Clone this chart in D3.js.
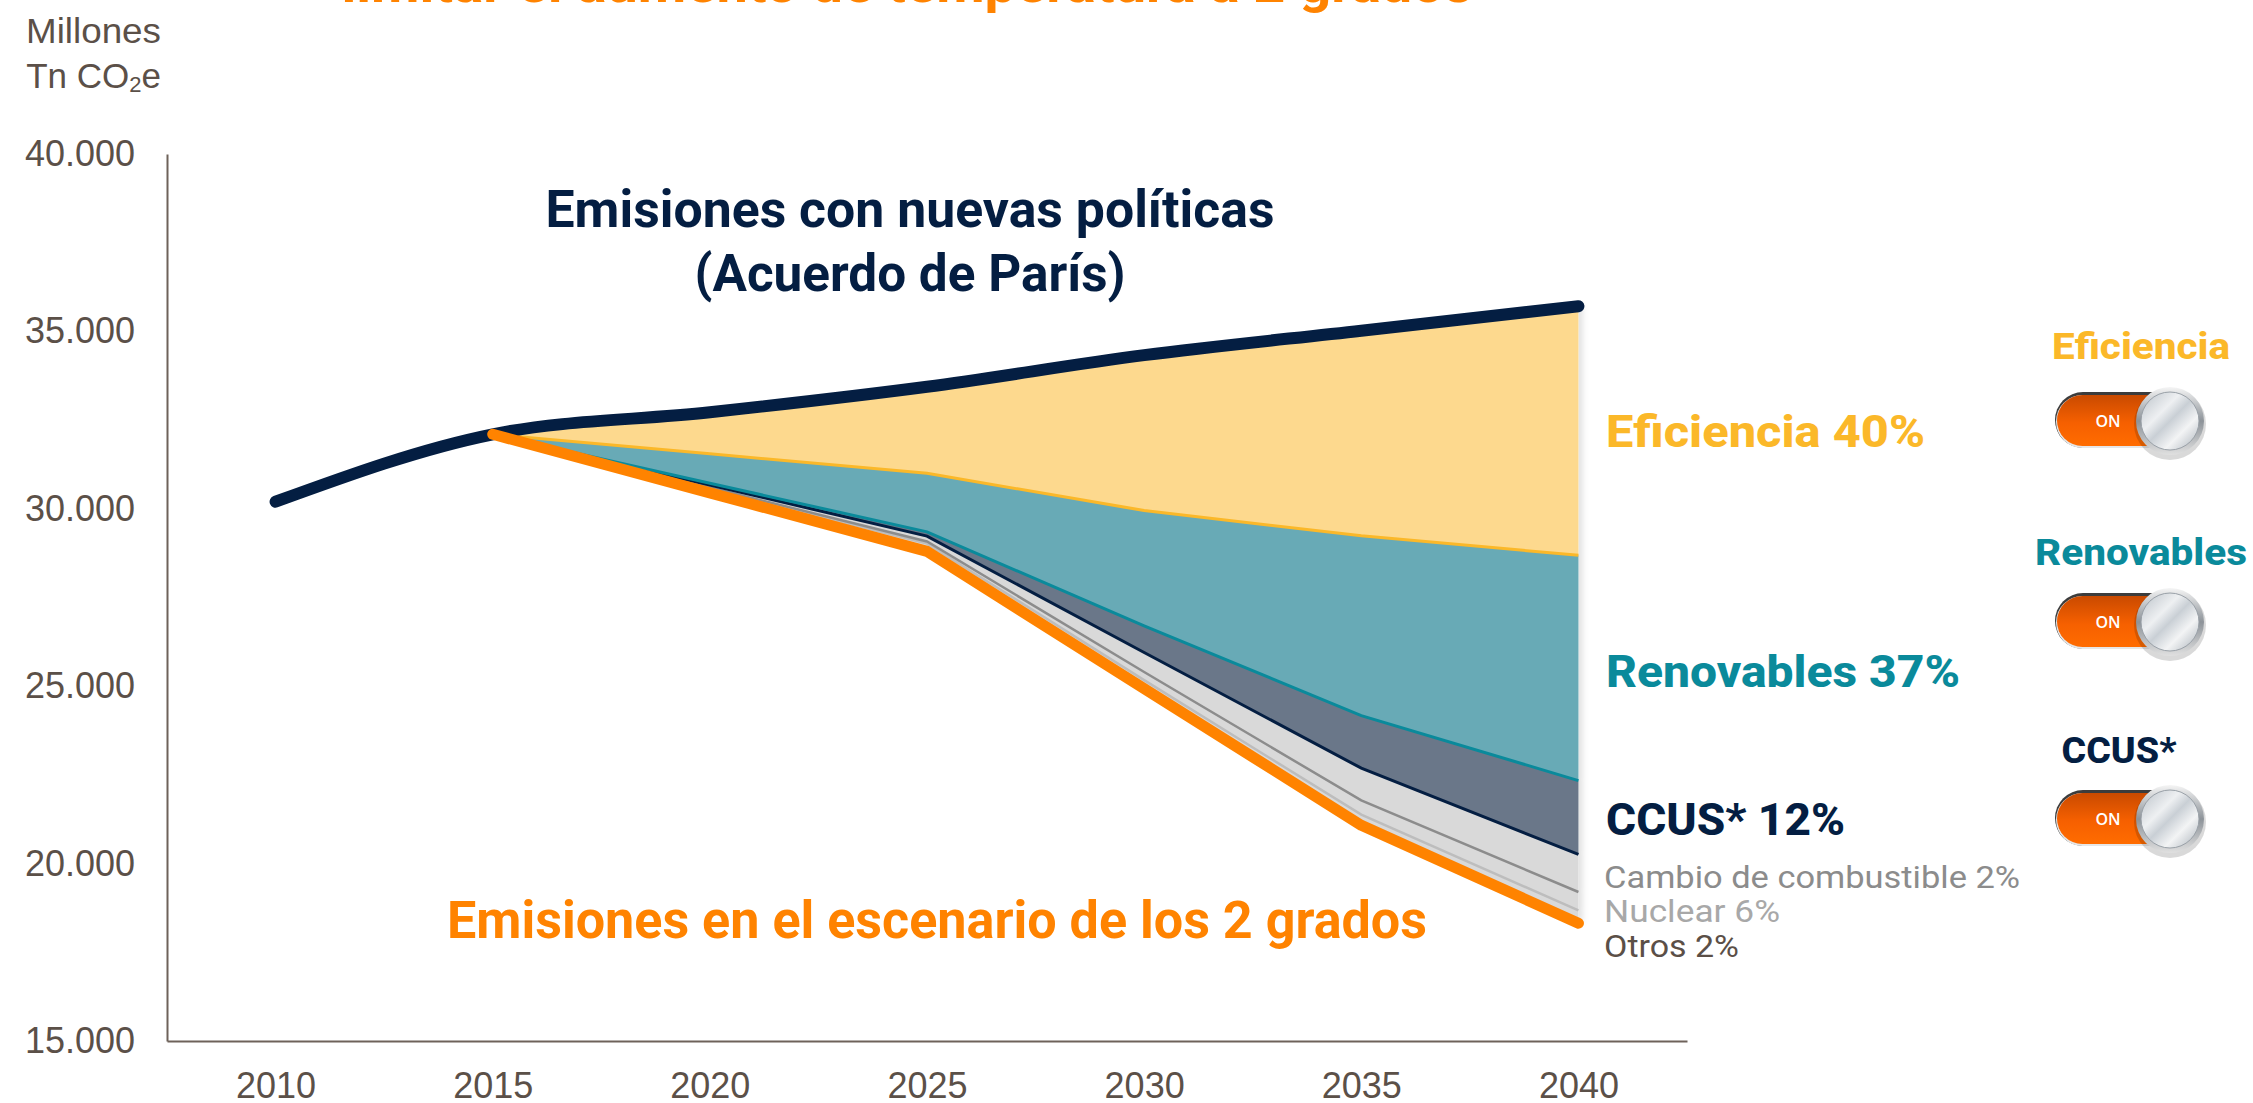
<!DOCTYPE html>
<html>
<head>
<meta charset="utf-8">
<script src="https://cdn.jsdelivr.net/npm/d3@7"></script>
<style>
  body { margin: 0; background: #fff; }
  svg { display: block; }
</style>
</head>
<body>
<div id="chart"></div>
<script>
// ---- data (millones Tn CO2e) ----
const years = [2010, 2015, 2020, 2025, 2030, 2035, 2040];
const yTicks = [15000, 20000, 25000, 30000, 35000, 40000];

// Emisiones con nuevas políticas (Acuerdo de París)
const nuevasPoliticas = [30200, 32100, 32720, 33440, 34330, 35020, 35710];

// Emisiones en el escenario de los 2 grados
const escYears = [2015, 2020, 2025, 2030, 2035, 2040];
const dosGrados = [32100, 30450, 28800, 24930, 21080, 18320];

// reducción por palanca, de abajo hacia arriba
const otros      = [0, 120, 220, 240, 300, 360];
const cambio     = [0, 30, 60, 230, 400, 520];
const nuclear    = [0, 70, 150, 550, 910, 1060];
const ccus       = [0, 50, 120, 750, 1480, 2080];
const renovables = [0, 830, 1650, 3250, 5070, 6350];
const eficiencia = [0, 1170, 2440, 4380, 5780, 7020];

const layerKeys = ["otros", "cambio", "nuclear", "ccus", "renovables", "eficiencia"];
const layerFill = { otros: "#d9d9d9", cambio: "#d9d9d9", nuclear: "#d9d9d9", ccus: "#6a7789", renovables: "#68aab6", eficiencia: "#fdd98e" };
const layerEdge = { otros: null, cambio: "#bdbdbd", nuclear: "#8c8c8c", ccus: "#041e42", renovables: "#0a8a9b", eficiencia: "#fbb829" };

const rightLabels = [
  { text: "Eficiencia 40%", color: "#fbb829" },
  { text: "Renovables 37%", color: "#0a8a9b" },
  { text: "CCUS* 12%", color: "#041e42" }
];
const smallLabels = [
  { text: "Cambio de combustible 2%", color: "#8c8c8c" },
  { text: "Nuclear 6%", color: "#a8a8a8" },
  { text: "Otros 2%", color: "#5b4f47" }
];
const toggles = [
  { text: "Eficiencia", color: "#fbb829" },
  { text: "Renovables", color: "#0a8a9b" },
  { text: "CCUS*", color: "#041e42" }
];

// ---- setup ----
const W = 2253, H = 1103;
const navy = "#041e42", orange = "#ff8300", axisCol = "#6e625a", tickCol = "#5b5048";
const display = "Roboto, 'DejaVu Sans', sans-serif";
const plain = "'Liberation Sans', Arial, sans-serif";

const svg = d3.select("#chart").append("svg")
  .attr("width", W).attr("height", H);

const defs = svg.append("defs");
const shadow = defs.append("filter").attr("id", "shade")
  .attr("x", "-5%").attr("y", "-5%").attr("width", "115%").attr("height", "115%");
shadow.append("feDropShadow").attr("dx", 4).attr("dy", 0)
  .attr("stdDeviation", 3).attr("flood-color", "#000").attr("flood-opacity", 0.12);

let pillGrad = defs.append("linearGradient").attr("id", "pill").attr("x1", 0).attr("y1", 0).attr("x2", 0).attr("y2", 1);
pillGrad.append("stop").attr("offset", "0%").attr("stop-color", "#c94a00");
pillGrad.append("stop").attr("offset", "55%").attr("stop-color", "#f66000");
pillGrad.append("stop").attr("offset", "100%").attr("stop-color", "#ff6c00");

let knobGrad = defs.append("linearGradient").attr("id", "knob").attr("x1", 0).attr("y1", 0).attr("x2", 1).attr("y2", 1);
knobGrad.append("stop").attr("offset", "0%").attr("stop-color", "#b9c0c7");
knobGrad.append("stop").attr("offset", "35%").attr("stop-color", "#eef0f2");
knobGrad.append("stop").attr("offset", "50%").attr("stop-color", "#c9cfd5");
knobGrad.append("stop").attr("offset", "70%").attr("stop-color", "#f3f4f5");
knobGrad.append("stop").attr("offset", "100%").attr("stop-color", "#a8b0b8");

let ringGrad = defs.append("linearGradient").attr("id", "ring").attr("x1", 0).attr("y1", 0).attr("x2", 0).attr("y2", 1);
ringGrad.append("stop").attr("offset", "0%").attr("stop-color", "#f5f5f5");
ringGrad.append("stop").attr("offset", "50%").attr("stop-color", "#8d9399");
ringGrad.append("stop").attr("offset", "100%").attr("stop-color", "#e0e0e0");

// Scales
const x = d3.scalePoint().domain(years).range([167, 1687]).padding(0.5);
const y = d3.scaleLinear().domain([15000, 40000]).range([1041, 154]);

const esLocale = d3.formatLocale({ decimal: ",", thousands: ".", grouping: [3], currency: ["", " €"] });

// Axes
const gy = svg.append("g").attr("transform", "translate(167,0)")
  .call(d3.axisLeft(y).tickValues(yTicks).tickFormat(esLocale.format(",")).tickSize(0).tickPadding(32));
const gx = svg.append("g").attr("transform", "translate(0,1041)")
  .call(d3.axisBottom(x).tickSize(0).tickPadding(31).tickFormat(d3.format("d")));
[gx, gy].forEach(g => {
  g.select(".domain").attr("stroke", axisCol).attr("stroke-width", 2);
  g.selectAll("text").attr("fill", tickCol).style("font-family", plain).style("font-size", "36px");
});

// y-axis title
svg.append("text").attr("x", 161).attr("y", 43).attr("text-anchor", "end")
  .attr("fill", tickCol).style("font-family", plain).style("font-size", "35px")
  .attr("textLength", 135).attr("lengthAdjust", "spacingAndGlyphs").text("Millones");
let unit = svg.append("text").attr("x", 161).attr("y", 88).attr("text-anchor", "end")
  .attr("fill", tickCol).style("font-family", plain).style("font-size", "35px");
unit.append("tspan").text("Tn CO");
unit.append("tspan").attr("font-size", "22px").attr("dy", 4).text("2");
unit.append("tspan").attr("dy", -4).text("e");

// ---- stacked reductions on top of the 2 grados scenario ----
const rows = escYears.map((yr, j) => ({
  year: yr, otros: otros[j], cambio: cambio[j], nuclear: nuclear[j],
  ccus: ccus[j], renovables: renovables[j], eficiencia: eficiencia[j]
}));

const stack = d3.stack().keys(layerKeys).offset((series, order) => {
  d3.stackOffsetNone(series, order);
  series.forEach(s => s.forEach((p, j) => { p[0] += dosGrados[j]; p[1] += dosGrados[j]; }));
});
const series = stack(rows);

const area = d3.area()
  .x(d => x(d.data.year))
  .y0(d => y(d[0]))
  .y1(d => y(d[1]));

const gArea = svg.append("g").attr("filter", "url(#shade)");
series.forEach(s => {
  if (s.key === "eficiencia") {
    // upper edge follows the smooth nuevas políticas curve
    let top = s.map(d => [x(d.data.year), y(d[1])]);
    let bot = s.map(d => [x(d.data.year), y(d[0])]).reverse();
    let p = d3.line().curve(d3.curveMonotoneX)(top) + "L" + bot.map(q => q.join(",")).join("L") + "Z";
    gArea.append("path").attr("d", p).attr("fill", layerFill[s.key]);
  } else {
    gArea.append("path").datum(s).attr("d", area).attr("fill", layerFill[s.key]);
  }
});

// edge lines (bottom of each layer)
const edge = d3.line().x(d => x(d.data.year)).y(d => y(d[0]));
series.forEach(s => {
  if (!layerEdge[s.key]) return;
  svg.append("path").datum(s).attr("d", edge)
    .attr("fill", "none").attr("stroke", layerEdge[s.key])
    .attr("stroke-width", s.key === "cambio" || s.key === "nuclear" ? 2.5 : 3);
});

// main lines
const polData = years.map((yr, i) => ({ year: yr, v: nuevasPoliticas[i] }));
svg.append("path").datum(polData)
  .attr("d", d3.line().x(d => x(d.year)).y(d => y(d.v)).curve(d3.curveMonotoneX))
  .attr("fill", "none").attr("stroke", navy).attr("stroke-width", 12)
  .attr("stroke-linecap", "round");

const escData = escYears.map((yr, i) => ({ year: yr, v: dosGrados[i] }));
svg.append("path").datum(escData)
  .attr("d", d3.line().x(d => x(d.year)).y(d => y(d.v)))
  .attr("fill", "none").attr("stroke", orange).attr("stroke-width", 11)
  .attr("stroke-linecap", "round").attr("stroke-linejoin", "round");

// ---- texts ----
function label(txt, cx, by, size, len, color, weight, anchor) {
  return svg.append("text").attr("x", cx).attr("y", by)
    .attr("text-anchor", anchor || "middle")
    .attr("fill", color).style("font-family", display)
    .style("font-weight", weight || 700).style("font-size", size + "px")
    .attr("textLength", len).attr("lengthAdjust", "spacingAndGlyphs")
    .text(txt);
}

label("limitar el aumento de temperatura a 2 grados", 907, 2, 52, 1131, orange);
label("Emisiones con nuevas políticas", 910, 227, 52, 729, navy);
label("(Acuerdo de París)", 910, 291, 52, 431, navy);
label("Emisiones en el escenario de los 2 grados", 937, 938, 51, 980, orange);

const rightY = [447, 687, 835];
const rightW = [319, 354, 239];
rightLabels.forEach((d, i) => label(d.text, 1606, rightY[i], 44, rightW[i], d.color, 800, "start"));

const smallY = [888, 922, 957];
const smallW = [416, 176, 135];
smallLabels.forEach((d, i) => label(d.text, 1604, smallY[i], 32, smallW[i], d.color, 400, "start"));

// ---- toggles ----
const togLabelY = [359, 565, 763];
const togLabelW = [178, 212, 115];
const togLabelX = [2141, 2141, 2119];
const togKnobY = [421, 622, 819];
toggles.forEach((d, i) => {
  label(d.text, togLabelX[i], togLabelY[i], 36, togLabelW[i], d.color, 800);
  let g = svg.append("g").attr("transform", `translate(2170,${togKnobY[i]})`);
  g.append("rect").attr("x", -115).attr("y", -29).attr("width", 125).attr("height", 56)
    .attr("rx", 28).attr("fill", "#3c3c3c");
  g.append("rect").attr("x", -114).attr("y", -26).attr("width", 124).attr("height", 53)
    .attr("rx", 26.5).attr("fill", "#e6e6e6");
  g.append("rect").attr("x", -113).attr("y", -26).attr("width", 122).attr("height", 51)
    .attr("rx", 25.5).attr("fill", "url(#pill)");
  g.append("text").attr("x", -62).attr("y", 6).attr("text-anchor", "middle")
    .attr("fill", "#fff").style("font-family", "'Open Sans', sans-serif")
    .style("font-weight", 600).style("font-size", "16px").text("ON");
  g.append("circle").attr("r", 36).attr("fill", "#000").attr("opacity", 0.15).attr("cy", 3);
  g.append("circle").attr("r", 34).attr("fill", "url(#ring)");
  g.append("circle").attr("r", 29).attr("fill", "url(#knob)")
    .attr("stroke", "#9aa1a8").attr("stroke-width", 1);
});
</script>
</body>
</html>
